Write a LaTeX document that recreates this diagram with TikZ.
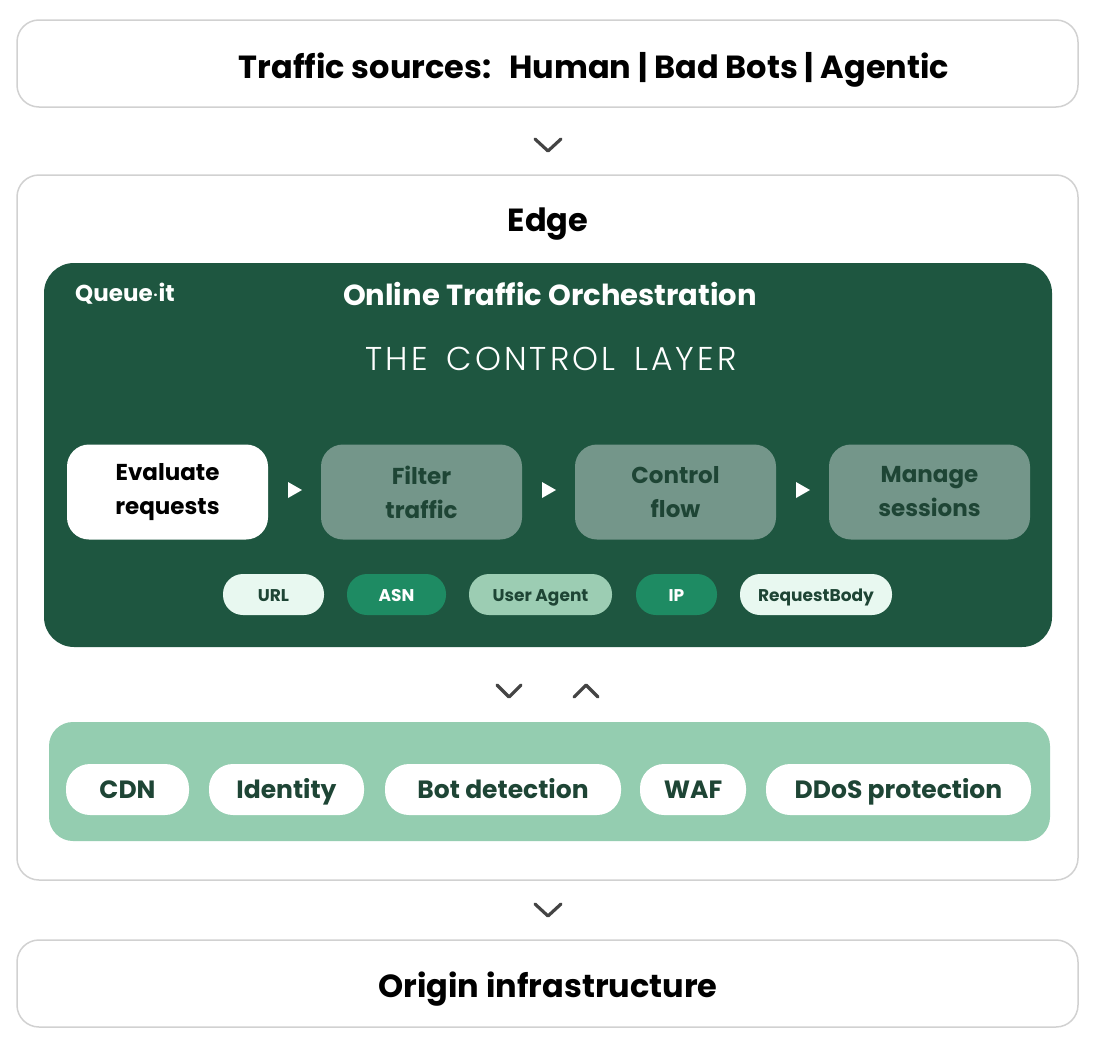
\documentclass[tikz,border=0pt]{standalone}
\usepackage{fontspec}
\setmainfont{Poppins}
\newfontfamily\light{Poppins Light}
\definecolor{dark}{HTML}{1E5640}
\definecolor{step}{HTML}{74968A}
\definecolor{steptext}{HTML}{1E4535}
\definecolor{pale}{HTML}{E8F8F0}
\definecolor{mid}{HTML}{1E8B63}
\definecolor{soft}{HTML}{9CCDB3}
\definecolor{bar}{HTML}{94CDB0}
\definecolor{chev}{HTML}{444444}
\begin{document}
\begin{tikzpicture}[x=1pt,y=-1pt,
 outer/.style={draw=black!18,line width=1.5pt,fill=white,rounded corners=22pt},
 stepbox/.style={rounded corners=22pt,fill=step,text=steptext,font=\fontsize{23}{34}\selectfont\bfseries,align=center,minimum width=201pt,minimum height=95pt},
 pill/.style={rounded corners=20pt,font=\fontsize{17}{18}\selectfont\bfseries,text=steptext,text height=14pt,text depth=1pt,minimum height=41pt},
 tool/.style={rounded corners=24pt,fill=white,font=\fontsize{25}{28}\selectfont\bfseries,text=steptext,text height=20pt,text depth=3pt,minimum height=51pt},
 chv/.style={draw=chev,line width=3.2pt,line cap=round,line join=round},
 tri/.style={fill=white}]
\useasboundingbox (0,0) rectangle (1100,1044);
\draw[outer] (17,20) rectangle (1078,107);
\node (src) at (594,70) {\fontsize{32}{36}\selectfont\bfseries Traffic sources:\; Human | Bad Bots | Agentic};
\draw[chv] (535,139) -- (548,151) -- (561,139);
\draw[outer] (17,175) rectangle (1078,880);
\node (edge) at (548,224) {\fontsize{32}{36}\selectfont\bfseries Edge};
\fill[dark,rounded corners=30pt] (44,263) rectangle (1052,647);
\node[text=white] (logo) at (125,294) {\fontsize{23}{24}\selectfont\bfseries Queue\kern1pt\raisebox{5pt}{\fontsize{14}{14}\selectfont.}\kern1pt it};
\node[text=white] (ott) at (550,294) {\fontsize{29}{32}\selectfont\bfseries Online Traffic Orchestration};
\node[text=white] (tcl) at (551,359) {\fontsize{33}{38}\selectfont\light T\kern3pt H\kern3pt E\kern1pt\; C\kern3pt O\kern3pt N\kern3pt T\kern3pt R\kern3pt O\kern3pt L\kern1pt\; L\kern3pt A\kern3pt Y\kern3pt E\kern3pt R};
\node[stepbox,fill=white,text=black] (s1) at (167.5,492) {Evaluate\\requests};
\node[stepbox] (s2) at (421.5,492) {Filter\\traffic};
\node[stepbox] (s3) at (675.5,492) {Control\\flow};
\node[stepbox] (s4) at (929.5,492) {Manage\\sessions};
\foreach \x in {294,548,802} \fill[tri] (\x-6,482) -- (\x+8,490) -- (\x-6,498) -- cycle;
\node[pill,fill=pale,minimum width=101pt] (p1) at (273.5,594.5) {URL};
\node[pill,fill=mid,text=white,minimum width=99pt] (p2) at (396.5,594.5) {ASN};
\node[pill,fill=soft,minimum width=143pt] (p3) at (540.5,594.5) {User Agent};
\node[pill,fill=mid,text=white,minimum width=81pt] (p4) at (676.5,594.5) {IP};
\node[pill,fill=pale,minimum width=152pt] (p5) at (816,594.5) {RequestBody};
\draw[chv] (497,685) -- (509,697) -- (521,685);
\draw[chv] (574,697) -- (586,685) -- (598,697);
\fill[bar,rounded corners=24pt] (49,722) rectangle (1050,841);
\node[tool,minimum width=123pt] (t1) at (127.5,789.5) {CDN};
\node[tool,minimum width=155pt] (t2) at (286.5,789.5) {Identity};
\node[tool,minimum width=236pt] (t3) at (503,789.5) {Bot detection};
\node[tool,minimum width=106pt] (t4) at (693,789.5) {WAF};
\node[tool,minimum width=265pt] (t5) at (898.5,789.5) {DDoS protection};
\draw[chv] (535,904) -- (548,916) -- (561,904);
\draw[outer] (17,940) rectangle (1078,1027);
\node (origin) at (548,989) {\fontsize{32}{36}\selectfont\bfseries Origin infrastructure};
\end{tikzpicture}
\end{document}
